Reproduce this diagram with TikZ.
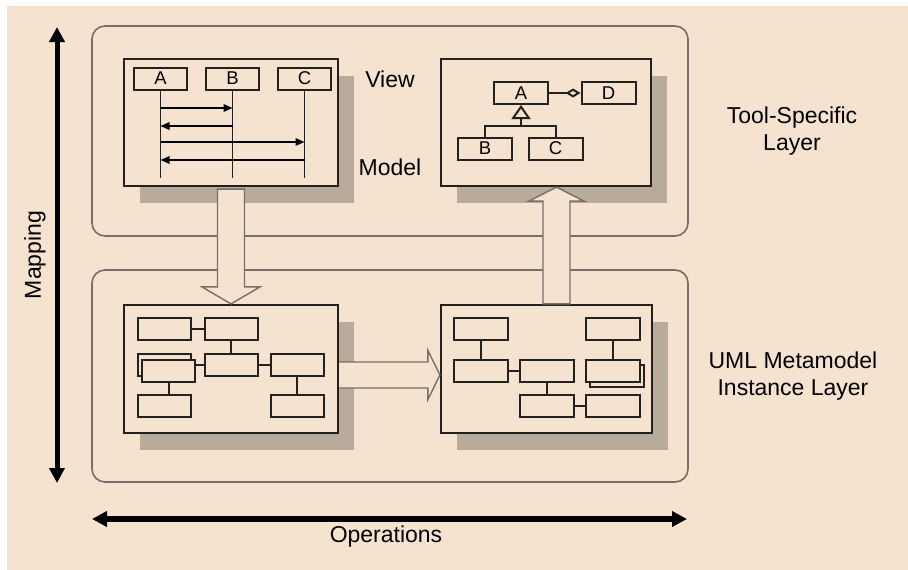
\documentclass[tikz,border=0pt]{standalone}
\usepackage{fontspec}
\setmainfont{Liberation Sans}
\usetikzlibrary{positioning,calc,arrows.meta,shadows}
\definecolor{paper}{RGB}{245,227,208}
\definecolor{shade}{RGB}{184,171,156}
\definecolor{rim}{RGB}{120,111,102}
\definecolor{ink}{RGB}{35,33,31}
\tikzset{
  layerbox/.style={draw=rim, line width=1.6pt, rounded corners=13pt,
    minimum width=596pt, minimum height=210pt},
  panel/.style={draw=ink, line width=2.2pt, fill=paper,
    minimum width=214pt, minimum height=127pt,
    drop shadow={shadow xshift=16pt, shadow yshift=-17pt, fill=shade, opacity=1}},
  elem/.style={draw=ink, line width=2pt, fill=paper, minimum width=53pt,
    minimum height=22pt, inner sep=0pt, font=\fontsize{18.5}{18.5}\selectfont},
  layertext/.style={font=\fontsize{23}{27}\selectfont, align=center},
  msg/.style={line width=1.6pt, -{Triangle[length=9pt,width=7.5pt]}},
  link/.style={line width=2pt, draw=ink},
  blockarrow/.style={draw=rim, line width=1.4pt, fill=paper},
  bigarrow/.style={line width=5pt,
    {Triangle[length=15pt,width=15pt]}-{Triangle[length=15pt,width=15pt]}}
}
\begin{document}
\begin{tikzpicture}[x=1pt,y=-1pt]
  \useasboundingbox (0,0) rectangle (908,570);
  \fill[white] (0,0) rectangle (908,570);
  \fill[paper] (7,6) rectangle (908,570);

  \node[layerbox] (tool) at (390,131) {};
  \node[layerbox, minimum height=212pt] (meta) at (390,376) {};

  \node[panel] (seq) at (231,122.5) {};
  \node[panel, minimum width=210pt] (cls) at (546,122.5) {};
  \node[panel, minimum height=128pt] (src) at (231,369) {};
  \node[panel, minimum width=211pt, minimum height=128pt] (dst) at (546.5,369) {};

  \node[elem] (la) at (160.5,78.5) {A};
  \node[elem, right=17pt of la] (lb) {B};
  \node[elem, right=17pt of lb] (lc) {C};
  \foreach \n in {la,lb,lc}
    \draw[link, line width=1.8pt] (\n.south) -- (\n.south |- 0,178);
  \draw[msg] (la.south |- 0,108) -- (lb.south |- 0,108);
  \draw[msg] (lb.south |- 0,126) -- (la.south |- 0,126);
  \draw[msg] (la.south |- 0,142) -- (lc.south |- 0,142);
  \draw[msg] (lc.south |- 0,160) -- (la.south |- 0,160);

  \node[elem, minimum width=54pt] (ca) at (521,93) {A};
  \node[elem, minimum width=54pt] (cd) at (608.5,93) {D};
  \node[elem, minimum width=54pt] (cb) at (485,148.5) {B};
  \node[elem, minimum width=54pt] (cc) at (555.5,148.5) {C};
  \coordinate (fork) at (521,126);
  \draw[link, -{Diamond[open,length=15pt,width=9pt]}] (ca) -- (cd);
  \draw[link, -{Triangle[open,length=14pt,width=19pt]}] (fork) -- (ca);
  \draw[link] (cb.north) |- (fork) -| (cc.north);

  \node[elem] (r1) at (164.5,329) {};
  \node[elem] (r2) at (231,329) {};
  \node[elem] (r3b) at (164.5,364.5) {};
  \node[elem] (r3) at (168.5,370.5) {};
  \node[elem] (r4) at (231,364.5) {};
  \node[elem] (r5) at (297,364.5) {};
  \node[elem] (r6) at (164.5,405.5) {};
  \node[elem] (r7) at (297,405.5) {};
  \draw[link] (r1) -- (r2);
  \draw[link] (r2) -- (r4);
  \draw[link] (r4.west) -- (r4.west -| r3.east);
  \draw[link] (r4) -- (r5);
  \draw[link] (r3.south) -- (r3.south |- r6.north);
  \draw[link] (r5) -- (r7);

  \node[elem, minimum width=54pt] (s1) at (481,329) {};
  \node[elem, minimum width=54pt] (s2) at (481,371) {};
  \node[elem, minimum width=54pt] (s3) at (547,371) {};
  \node[elem, minimum width=54pt] (s4) at (613,329) {};
  \node[elem, minimum width=54pt] (s5b) at (617,375.5) {};
  \node[elem, minimum width=54pt] (s5) at (613,371) {};
  \node[elem, minimum width=54pt] (s6) at (547,405.5) {};
  \node[elem, minimum width=54pt] (s7) at (613,405.5) {};
  \draw[link] (s1) -- (s2);
  \draw[link] (s2) -- (s3);
  \draw[link] (s4) -- (s5);
  \draw[link] (s3) -- (s6);
  \draw[link] (s6) -- (s7);

  \draw[blockarrow] ($(seq.south)+(-13.5,2)$) -- ($(src.north)+(-13.5,-17)$)
    -- ($(src.north)+(-29,-17)$) -- (src.north) -- ($(src.north)+(29,-17)$)
    -- ($(src.north)+(13.5,-17)$) -- ($(seq.south)+(13.5,2)$) -- cycle;
  \coordinate (upfoot) at (dst.north -| 556.5,0);
  \coordinate (uptip) at (cls.south -| 556.5,0);
  \draw[blockarrow] ($(upfoot)+(-13.5,0)$) -- ($(uptip)+(-13.5,14)$)
    -- ($(uptip)+(-27.5,14)$) -- (uptip) -- ($(uptip)+(27.5,14)$)
    -- ($(uptip)+(13.5,14)$) -- ($(upfoot)+(13.5,0)$) -- cycle;
  \coordinate (rfoot) at (src.east |- 0,375);
  \coordinate (rtip) at (dst.west |- 0,375);
  \draw[blockarrow] ($(rfoot)+(0,-13)$) -- ($(rtip)+(-12,-13)$)
    -- ($(rtip)+(-12,-24.5)$) -- (rtip) -- ($(rtip)+(-12,24.5)$)
    -- ($(rtip)+(-12,13)$) -- ($(rfoot)+(0,13)$);

  \node[layertext] (view) at (390,79) {View};
  \node[layertext] (model) at (390,167) {Model};
  \node[layertext] (toolname) at (792,131) {Tool-Specific\\Layer};
  \node[layertext] (metaname) at (793,376) {UML Metamodel\\Instance Layer};

  \coordinate (mtop) at (57,27);
  \coordinate (mbot) at (57,483);
  \draw[bigarrow] (mbot) -- (mtop);
  \node[layertext, rotate=90] (maplbl) at (35,255) {Mapping};
  \coordinate (oleft) at (92,519);
  \coordinate (oright) at (687,519);
  \draw[bigarrow, line width=6pt] (oleft) -- (oright);
  \node[layertext] (oplbl) at (386,537) {Operations};
\end{tikzpicture}
\end{document}
